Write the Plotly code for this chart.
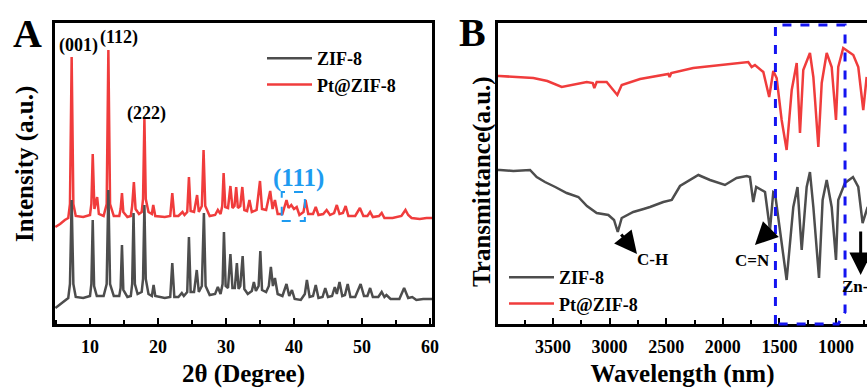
import plotly.graph_objects as go

# ---------------- Panel A : XRD ----------------
xrd_zif_x = [4.9, 5.6, 6.3, 6.8, 7.05, 7.3, 7.55, 7.9, 9.0, 10.0, 10.2, 10.4, 10.6, 11.0, 12.0, 12.45, 12.7, 12.95,
             13.5, 14.3, 14.5, 14.7, 14.9, 15.5, 16.0, 16.2, 16.4, 16.6, 17.0, 17.6, 17.8, 18.0, 18.2, 18.6, 19.1,
             19.35, 19.6, 21.0, 21.8, 22.1, 22.4, 23.0, 23.5, 23.8, 24.3, 24.55, 24.8, 25.3, 25.7, 26.0, 26.45,
             26.75, 27.0, 27.6, 28.4, 28.8, 29.2, 29.5, 29.7, 29.95, 30.3, 30.65, 30.95, 31.3, 31.6, 31.85, 32.1,
             32.45, 32.7, 33.2, 33.8, 34.1, 34.4, 34.8, 35.05, 35.3, 35.9, 36.3, 36.6, 36.9, 37.2, 37.6, 38.3, 38.9,
             39.3, 39.7, 40.1, 41.0, 41.6, 41.9, 42.3, 42.8, 43.2, 43.6, 44.2, 44.6, 45.0, 45.6, 46.0, 46.3, 46.7,
             47.1, 47.5, 47.9, 48.3, 49.0, 49.8, 50.3, 50.8, 51.2, 51.6, 52.4, 52.9, 53.3, 53.6, 54.2, 55.5, 56.2,
             56.8, 57.4, 58.0, 59.0, 60.3]
xrd_zif_y = [16, 20, 24, 26, 40, 124, 40, 27, 26, 28, 40, 104, 38, 28, 28, 40, 134, 40,
             28, 28, 36, 79, 34, 27, 28, 40, 111, 40, 30, 32, 45, 119, 45, 30, 28,
             39, 28, 26, 27, 61, 27, 27, 31, 28, 32, 87, 32, 32, 54, 32, 38,
             111, 38, 29, 30, 37, 30, 40, 92, 38, 36, 70, 36, 36, 61, 35, 38,
             68, 35, 30, 33, 42, 33, 38, 73, 34, 32, 38, 57, 38, 46, 30, 28, 40,
             28, 34, 25, 24, 30, 44, 27, 28, 39, 26, 27, 36, 27, 28, 37, 30, 42,
             28, 29, 40, 27, 27, 40, 28, 28, 36, 27, 27, 32, 27, 29, 25, 25, 36,
             26, 27, 24, 25, 25]

xrd_pt_x = [4.9, 5.6, 6.3, 6.8, 7.05, 7.3, 7.55, 7.9, 9.0, 10.0, 10.2, 10.4, 10.65, 11.05, 11.3, 12.0, 12.45, 12.7,
            12.95, 13.5, 14.3, 14.5, 14.7, 14.9, 15.5, 16.0, 16.2, 16.45, 16.7, 17.2, 17.6, 17.8, 18.0, 18.2, 18.6,
            19.1, 19.3, 19.6, 21.0, 21.8, 22.1, 22.4, 23.0, 23.6, 23.9, 24.3, 24.55, 24.8, 25.3, 25.75, 26.0, 26.45,
            26.7, 26.95, 27.6, 28.4, 28.8, 29.2, 29.45, 29.65, 29.9, 30.3, 30.65, 30.95, 31.25, 31.5, 31.75, 32.1,
            32.4, 32.7, 33.1, 33.45, 33.8, 34.5, 35.0, 35.3, 35.9, 36.5, 36.85, 37.2, 37.6, 38.3, 38.9, 39.2, 39.6,
            40.0, 40.4, 40.8, 41.4, 41.7, 42.1, 42.8, 43.2, 43.6, 44.3, 44.8, 45.3, 45.9, 46.3, 46.7, 47.2, 47.6,
            48.0, 49.0, 49.7, 50.2, 50.8, 51.2, 51.6, 52.5, 52.9, 53.3, 54.5, 55.8, 56.4, 56.8, 57.3, 58.5, 59.5,
            60.3]
xrd_pt_y = [97, 100, 104, 106, 120, 267, 120, 108, 107, 109, 120, 170, 115, 127, 110, 108, 120, 274,
            120, 108, 108, 115, 131, 112, 107, 108, 118, 142, 115, 110, 112, 125, 206, 125, 112,
            110, 119, 108, 107, 108, 131, 108, 108, 112, 109, 112, 147, 113, 112, 129, 112, 118,
            174, 118, 108, 109, 114, 110, 118, 151, 117, 116, 138, 116, 118, 137, 116, 118,
            137, 114, 113, 124, 112, 114, 143, 115, 114, 133, 115, 124, 110, 110, 124, 116, 119,
            115, 117, 109, 112, 124, 110, 110, 117, 109, 110, 114, 109, 111, 119, 110, 111, 118,
            108, 108, 116, 108, 108, 112, 107, 108, 111, 106, 106, 108, 114, 109, 106, 105, 106,
            106]

xrd_ticks = [10, 20, 30, 40, 50, 60]
xrd_peak_labels = ["(001)", "(112)", "(222)"]

# ---------------- Panel B : FTIR ----------------
ftir_zif_x = [3986, 3968, 3850, 3703, 3644, 3571, 3480, 3379, 3276, 3200, 3114, 3011, 2961, 2928, 2893, 2791,
              2700, 2643, 2526, 2451, 2378, 2300, 2216, 2113, 1981, 1878, 1789, 1760, 1731, 1705, 1627, 1583,
              1554, 1539, 1436, 1377, 1340, 1303, 1259, 1230, 1200, 1150, 1118, 1082, 1038, 1000, 980, 921,
              850, 803, 765, 720]
ftir_zif_y = [154, 154, 153, 154, 147, 142, 137, 131, 127, 118, 111, 109, 104, 92, 106, 112,
              115, 117, 122, 124, 138, 143, 149, 144, 139, 146, 148, 147, 122, 137, 132, 94,
              132, 131, 44, 117, 137, 74, 137, 152, 117, 46, 124, 144, 117, 64, 124, 141,
              147, 137, 101, 117]

ftir_pt_x = [3986, 3974, 3674, 3550, 3423, 3300, 3202, 3149, 3135, 3114, 3026, 2932, 2893, 2731, 2481, 2470,
             2455, 2261, 1996, 1775, 1745, 1716, 1642, 1590, 1554, 1524, 1480, 1436, 1391, 1347, 1318, 1289,
             1230, 1200, 1185, 1156, 1126, 1082, 1038, 1000, 980, 936, 847, 803, 759, 729]
ftir_pt_y = [248, 248, 246, 243, 237, 240, 242, 241, 236, 242, 242, 229, 239, 245, 250, 247,
             251, 256, 259, 262, 257, 259, 252, 227, 253, 246, 204, 174, 234, 261, 191, 254,
             271, 247, 224, 177, 241, 271, 257, 204, 257, 276, 269, 257, 214, 247]

ftir_ticks = [3500, 3000, 2500, 2000, 1500, 1000]

GREY = "#4d4d4d"
RED = "#f03c3c"
FONT = "Liberation Serif, Times New Roman, DejaVu Serif, serif"

fig = go.Figure()

fig.add_trace(go.Scatter(x=xrd_pt_x, y=xrd_pt_y, mode="lines", name="Pt@ZIF-8",
                         line=dict(color=RED, width=2.5), xaxis="x", yaxis="y",
                         legend="legend", legendrank=2))
fig.add_trace(go.Scatter(x=xrd_zif_x, y=xrd_zif_y, mode="lines", name="ZIF-8",
                         line=dict(color=GREY, width=2.5), xaxis="x", yaxis="y",
                         legend="legend", legendrank=1))
fig.add_trace(go.Scatter(x=ftir_zif_x, y=ftir_zif_y, mode="lines", name="ZIF-8",
                         line=dict(color=GREY, width=2.5), xaxis="x2", yaxis="y2",
                         legend="legend2", legendrank=1))
fig.add_trace(go.Scatter(x=ftir_pt_x, y=ftir_pt_y, mode="lines", name="Pt@ZIF-8",
                         line=dict(color=RED, width=2.5), xaxis="x2", yaxis="y2",
                         legend="legend2", legendrank=2))

W, H = 867, 388
ydom = [1 - 324 / H, 1 - 22.5 / H]

def bfont(size, color="black"):
    return dict(family=FONT, size=size, color=color, weight="bold")

axis_common = dict(showline=True, linecolor="black", linewidth=3, showgrid=False, zeroline=False,
                   tickwidth=2, tickcolor="black", automargin=False, tickfont=bfont(18))

fig.update_layout(
    width=W, height=H, margin=dict(l=0, r=0, t=0, b=0),
    paper_bgcolor="white", plot_bgcolor="white",
    font=dict(family=FONT, color="black", weight="bold"),
    xaxis=dict(domain=[55 / W, 432 / W], range=[4.85, 60.3], tickvals=xrd_ticks, mirror=True,
               ticks="inside", ticklen=6,
               minor=dict(ticks="inside", ticklen=4, tickwidth=2, dtick=5, tick0=5, tickcolor="black"),
               title=dict(text="2θ (Degree)", standoff=11, font=bfont(25)), anchor="y", ticklabelstandoff=4,
               **axis_common),
    yaxis=dict(domain=ydom, range=[0, 301.5], showticklabels=False, mirror=True, anchor="x",
               ticks="", **axis_common),
    xaxis2=dict(domain=[498 / W, 1.0], range=[3986, 726], tickvals=ftir_ticks, mirror=True,
                ticks="inside", ticklen=6,
                minor=dict(ticks="inside", ticklen=4, tickwidth=2, dtick=250, tick0=0, tickcolor="black"),
                title=dict(text="Wavelength (nm)", standoff=11, font=bfont(25)), anchor="y2", ticklabelstandoff=4,
                **axis_common),
    yaxis2=dict(domain=ydom, range=[0, 301.5], showticklabels=False, mirror=False, anchor="x2",
                ticks="", **axis_common),
    legend=dict(x=262 / W, y=1 - 40 / H, xanchor="left", yanchor="top", bgcolor="rgba(0,0,0,0)",
                font=bfont(18), itemwidth=45, tracegroupgap=0),
    legend2=dict(x=504 / W, y=1 - 259 / H, xanchor="left", yanchor="top", bgcolor="rgba(0,0,0,0)",
                 font=bfont(18), itemwidth=45, tracegroupgap=0),
    showlegend=True,
)

ann = []
# y-axis titles
ann.append(dict(text="Intensity (a.u.)", x=25 / W, y=1 - 164 / H, xref="paper", yref="paper",
                showarrow=False, textangle=-90, xanchor="center", yanchor="middle", font=bfont(25)))
ann.append(dict(text="Transmittance(a.u.)", x=482 / W, y=1 - 182 / H, xref="paper", yref="paper",
                showarrow=False, textangle=-90, xanchor="center", yanchor="middle", font=bfont(25)))
# panel letters
ann.append(dict(text="A", x=27 / W, y=1 - 33.5 / H, xref="paper", yref="paper", showarrow=False,
                xanchor="center", yanchor="middle", font=bfont(40)))
ann.append(dict(text="B", x=472 / W, y=1 - 32.5 / H, xref="paper", yref="paper", showarrow=False,
                xanchor="center", yanchor="middle", font=bfont(40)))
# peak labels
label_pos = [(78, 45), (119, 38), (146, 113)]
for lab, (px, py) in zip(xrd_peak_labels, label_pos):
    ann.append(dict(text=lab, x=px / W, y=1 - py / H, xref="paper", yref="paper", showarrow=False,
                    xanchor="center", yanchor="middle", font=bfont(18)))
ann.append(dict(text="(111)", x=40.6, y=324 - 177.5, xref="x", yref="y", showarrow=False,
                xanchor="center", yanchor="middle", font=bfont(25, "#1e9bf0")))
# FTIR annotations
ann.append(dict(text="C-H", x=2617, y=65, xref="x2", yref="y2", showarrow=False,
                xanchor="center", yanchor="middle", font=bfont(17)))
ann.append(dict(text="C=N", x=1742, y=64, xref="x2", yref="y2", showarrow=False,
                xanchor="center", yanchor="middle", font=bfont(17)))
ann.append(dict(text="Zn-O", x=962, y=38, xref="x2", yref="y2", showarrow=False, xanchor="left",
                yanchor="middle", font=bfont(17)))
arrows = [((2758, 70), (2908, 91)), ((1716, 79), (1583, 94)), ((782, 49), (782, 94))]
for (hx, hy), (tx, ty) in arrows:
    ann.append(dict(text="", x=hx, y=hy, ax=tx, ay=ty, xref="x2", yref="y2", axref="x2", ayref="y2",
                    showarrow=True, arrowhead=2, arrowsize=1.5, arrowwidth=3, arrowcolor="black",
                    standoff=0, startstandoff=0))
fig.update_layout(annotations=ann)

shapes = [
    dict(type="rect", xref="x", yref="y", x0=38.2, x1=41.6, y0=103, y1=132,
         line=dict(color="#1e9bf0", width=2, dash="dash")),
    dict(type="path", xref="x2", yref="paper",
         path=f"M1535,{1 - 324 / H} L1535,{1 - 25 / H} L920,{1 - 25 / H} L920,{1 - 312 / H} L980,{1 - 324 / H} Z",
         line=dict(color="#1414f0", width=3, dash="dash")),
]
fig.update_layout(shapes=shapes)

fig.write_html("out.html")
